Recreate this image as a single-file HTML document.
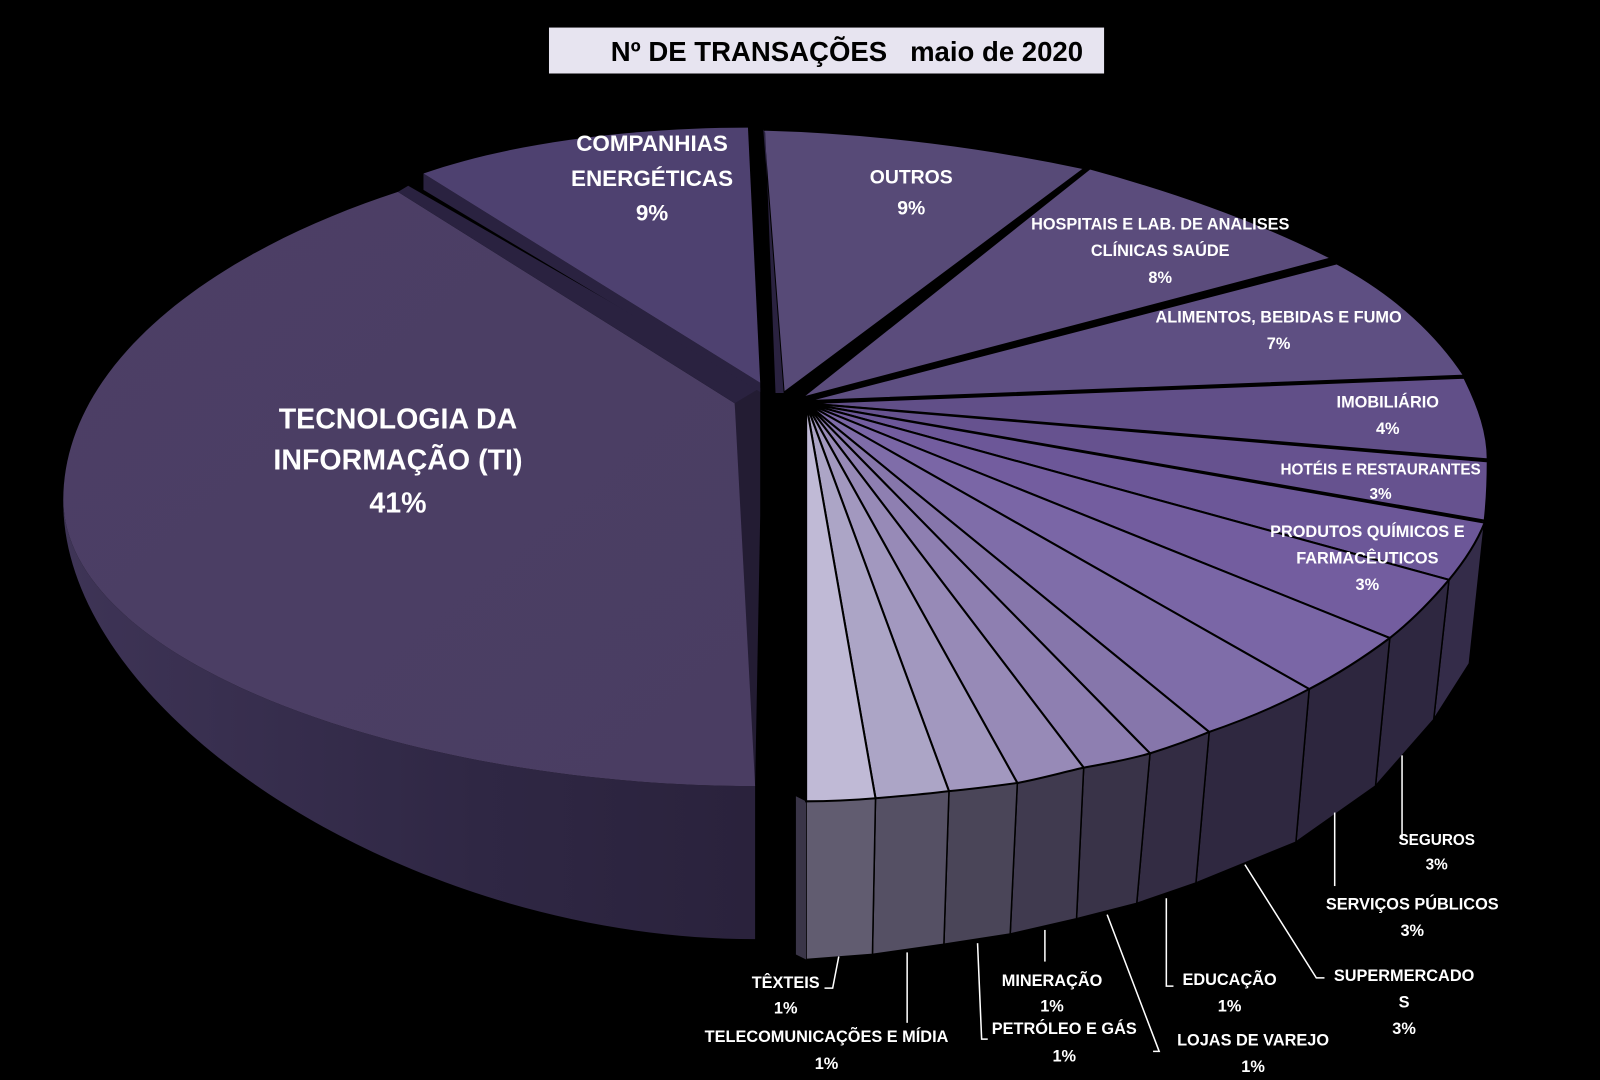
<!DOCTYPE html>
<html><head><meta charset="utf-8"><style>
html,body{margin:0;padding:0;background:#000;}
svg{display:block}
text{font-family:"Liberation Sans",sans-serif;font-weight:bold;fill:#fff;text-anchor:middle}
</style></head><body>
<svg width="1600" height="1080" viewBox="0 0 1568 1058" preserveAspectRatio="none" xmlns="http://www.w3.org/2000/svg">
<defs>
<linearGradient id="tiw" x1="0" x2="1" y1="0" y2="0"><stop offset="0" stop-color="#3e3456"/><stop offset="0.6" stop-color="#2f2744"/><stop offset="1" stop-color="#2a223c"/></linearGradient>
<linearGradient id="tit" x1="0" x2="1" y1="0" y2="1"><stop offset="0" stop-color="#4c3f66"/><stop offset="1" stop-color="#4a3d62"/></linearGradient>
</defs>
<rect width="1568" height="1058" fill="#000"/>
<!-- title -->
<rect x="538" y="27" width="544" height="45" fill="#e7e4f0"/>
<text x="830" y="60" style="fill:#000;font-size:27px" xml:space="preserve">Nº DE TRANSAÇÕES   maio de 2020</text>

<!-- TI wall -->
<path d="M62,490 C60,700 400,920 740,920 L740,770 C400,770 64,650 62,490 Z" fill="url(#tiw)"/>
<!-- TI inner cut face -->
<path d="M720,392 L745,380 L745,505 L740,770 L720,770 Z" fill="#231c33"/>
<!-- TI top -->
<path d="M720,395 L390,188 C200,250 62,360 62,490 C64,650 400,770 740,770 L720,395 Z" fill="url(#tit)"/>
<!-- TI top edge face -->
<path d="M390,188 L400,182 L745,380 L720,395 Z" fill="#2a2240"/>

<!-- CE -->
<path d="M415,170 L415,186 L745,384 L745,375 Z" fill="#2a2240"/>
<path d="M745,375 L415,170 C500,140 620,125 733,125 Z" fill="#4e4170"/>

<!-- right group walls -->
<g stroke="#000" stroke-width="1.5">
<path d="M1458,452 L1455,510 L1440,650 L1442,590 Z" fill="#3a3150"/>
<path d="M1455,510 L1420,568 L1405,705 L1440,650 Z" fill="#342c49"/>
<path d="M1420,568 L1362,625 L1348,770 L1405,705 Z" fill="#2e2740"/>
<path d="M1362,625 L1283,675 L1270,825 L1348,770 Z" fill="#2d263e"/>
<path d="M1283,675 L1185,717 L1172,865 L1270,825 Z" fill="#2f2840"/>
<path d="M1185,717 L1127,738 L1114,885 L1172,865 Z" fill="#332c43"/>
<path d="M1127,738 L1062,752 L1055,900 L1114,885 Z" fill="#393348"/>
<path d="M1062,752 L997,767 L990,915 L1055,900 Z" fill="#403a4f"/>
<path d="M997,767 L930,775 L925,925 L990,915 Z" fill="#4a4558"/>
<path d="M930,775 L858,782 L855,935 L925,925 Z" fill="#555064"/>
<path d="M858,782 L790,785 L790,940 L855,935 Z" fill="#615c70"/>
</g>
<path d="M790,785 L780,780 L780,935 L790,940 Z" fill="#3a3548"/>

<!-- right group tops -->
<g stroke="#000" stroke-width="2">
<path d="M768,385 L748,127 C860,130 970,145 1063,165 Z" fill="#574a77"/>
<path d="M785,390 L1068,165 C1160,190 1240,220 1305,253 Z" fill="#5b4c7c"/>
<path d="M790,393 L1310,258 C1370,290 1410,330 1435,368 Z" fill="#5e4f82"/>
<path d="M790,395 L1435,370 C1450,400 1458,425 1458,450 Z" fill="#614f88"/>
<path d="M790,395 L1458,452 C1458,472 1457,492 1455,510 Z" fill="#66528f"/>
<path d="M790,395 L1455,512 C1447,532 1435,550 1420,568 Z" fill="#6c5798"/>
<path d="M790,395 L1420,568 C1403,588 1385,607 1362,625 Z" fill="#735d9f"/>
<path d="M790,395 L1362,625 C1338,643 1312,660 1283,675 Z" fill="#7a66a6"/>
<path d="M790,395 L1283,675 C1253,691 1220,705 1185,717 Z" fill="#7f6da9"/>
<path d="M790,395 L1185,717 C1166,725 1146,732 1127,738 Z" fill="#8676ab"/>
<path d="M790,395 L1127,738 C1106,744 1084,748 1062,752 Z" fill="#8e7fb1"/>
<path d="M790,395 L1062,752 C1040,757 1019,763 997,767 Z" fill="#978ab7"/>
<path d="M790,395 L997,767 C975,770 952,773 930,775 Z" fill="#a298bf"/>
<path d="M790,395 L930,775 C906,778 882,780 858,782 Z" fill="#aca5c6"/>
<path d="M790,395 L858,782 C835,784 812,785 790,785 Z" fill="#c0bad6"/>
</g>
<path d="M760,385 L750,130 L748,127 L768,385 Z" fill="#2a2240"/>

<!-- labels -->
<text x="390" y="420" style="font-size:28px">TECNOLOGIA DA</text>
<text x="390" y="460" style="font-size:28px">INFORMAÇÃO (TI)</text>
<text x="390" y="502" style="font-size:28px">41%</text>
<text x="639" y="148" style="font-size:22px">COMPANHIAS</text>
<text x="639" y="182" style="font-size:22px">ENERGÉTICAS</text>
<text x="639" y="216" style="font-size:22px">9%</text>
<text x="893" y="180" style="font-size:19px">OUTROS</text>
<text x="893" y="210" style="font-size:19px">9%</text>
<g style="font-size:16px">
<text x="1137" y="225">HOSPITAIS E LAB. DE ANALISES</text>
<text x="1137" y="251">CLÍNICAS SAÚDE</text>
<text x="1137" y="277">8%</text>
<text x="1253" y="316">ALIMENTOS, BEBIDAS E FUMO</text>
<text x="1253" y="342">7%</text>
<text x="1360" y="399">IMOBILIÁRIO</text>
<text x="1360" y="425">4%</text>
<text x="1353" y="465" style="font-size:15px">HOTÉIS E RESTAURANTES</text>
<text x="1353" y="489" style="font-size:15px">3%</text>
<text x="1340" y="526">PRODUTOS QUÍMICOS E</text>
<text x="1340" y="552">FARMACÊUTICOS</text>
<text x="1340" y="578">3%</text>
<text x="1408" y="828" style="font-size:15px">SEGUROS</text>
<text x="1408" y="852" style="font-size:15px">3%</text>
<text x="1384" y="891">SERVIÇOS PÚBLICOS</text>
<text x="1384" y="917">3%</text>
<text x="1376" y="961">SUPERMERCADO</text>
<text x="1376" y="987">S</text>
<text x="1376" y="1013">3%</text>
<text x="1205" y="965">EDUCAÇÃO</text>
<text x="1205" y="991">1%</text>
<text x="1228" y="1024">LOJAS DE VAREJO</text>
<text x="1228" y="1050">1%</text>
<text x="1031" y="966">MINERAÇÃO</text>
<text x="1031" y="991">1%</text>
<text x="1043" y="1013">PETRÓLEO E GÁS</text>
<text x="1043" y="1040">1%</text>
<text x="770" y="968">TÊXTEIS</text>
<text x="770" y="993">1%</text>
<text x="810" y="1021">TELECOMUNICAÇÕES E MÍDIA</text>
<text x="810" y="1047">1%</text>
</g>
<!-- leaders -->
<g stroke="#fff" stroke-width="1.5" fill="none">
<path d="M1374,740 L1374,822"/>
<path d="M1308,796 L1308,868"/>
<path d="M1220,847 L1290,958 L1298,958"/>
<path d="M1143,880 L1143,966 L1150,966"/>
<path d="M1085,896 L1136,1030 L1130,1030"/>
<path d="M1024,911 L1024,942"/>
<path d="M958,924 L962,1018 L968,1018"/>
<path d="M889,933 L889,1002"/>
<path d="M822,937 L816,968 L808,968"/>
</g>
</svg>
</body></html>
